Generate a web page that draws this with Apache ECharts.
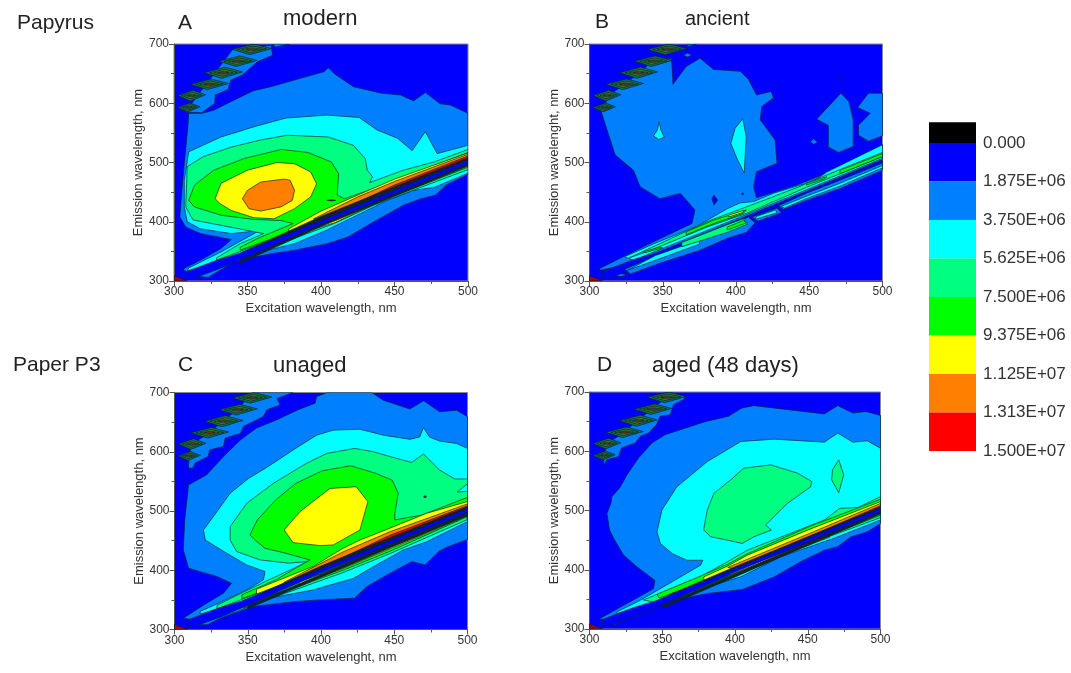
<!DOCTYPE html>
<html><head><meta charset="utf-8">
<style>html,body{margin:0;padding:0;background:#fff}#c{width:1071px;height:673px;filter:blur(0.45px)}</style>
<script src="https://cdn.jsdelivr.net/npm/echarts@6/dist/echarts.min.js"></script></head>
<body><div id="c"></div>
<script>
// colour levels of the contour scale
const levelColors = {blue:'#0000ff',azure:'#0080ff',cyan:'#00ffff',spring:'#00ff80',green:'#00ff00',yellow:'#ffff00',orange:'#ff8000',red:'#ff0000',dark:'#14222c',dred:'#a00808'};
const scaleLabels = ['0.000','1.875E+06','3.750E+06','5.625E+06','7.500E+06','9.375E+06','1.125E+07','1.313E+07','1.500E+07'];
const scaleColors = ['#000000','#0000ff','#0080ff','#00ffff','#00ff80','#00ff00','#ffff00','#ff8000','#ff0000'];
const scaleFrom = [-0.54,0,1,2,3,4,5,6,7];
const scaleTo = [0,1,2,3,4,5,6,7,8];

// second-order scatter spots: excitation, emission, half-width, half-height (nm)
const spotCentres = [[310,593,7.7,7.6],[312,613,9.5,9],[324,632,13,9],[333.6,651.5,13,9.5],[343.5,671,13,9],[353,691,13.5,9]];
const cornerSpot = [[300,300],[309,300],[300,309]];
// deep blue channel along the Rayleigh line
const ridgeGap = [[309,316],[330,336],[345,347],[400,402],[450,453],[500,504],[500,498],[450,447],[400,396],[345,335],[330,320],[316,307],[309,305]];

// ---- Panel A: papyrus, modern
const A_azure = [[310,583],[309.5,563],[307,498],[305,442],[304,408],[308,391],[318,380],[331,374],[339,370],[332,355],[318,335],[306,320],[309,315],[316,308],[323,306],[343,335],[366,346],[382,352],[404,363],[418,374],[436,400],[456,428],[468,439],[478,445],[485,462],[500,480],[500,583],[488,597],[481,599],[471,618],[463,604],[454,614],[441,617],[422,628],[409,650],[405,660],[402,653],[386,642],[366,628],[354,621],[339,603],[327,588],[319,583]];
const A_stairs = [[308,585],[319,584],[327.7,600],[328,614],[336.7,623],[338.6,639],[346.5,647.6],[356.7,670],[367,681],[366,698],[340,691],[310,593]];
const A_azureTop = [[367,700],[379,700],[369,695]];
const A_cyanUp = [[310,518],[332,543],[354,560],[376,575],[404,580],[426,576],[438,555],[452,541],[462,520],[471,552],[479,515],[500,529],[500,505],[400,401],[340,340],[309,317],[310,322],[332,349],[358,385],[339,380],[318,388],[309,400],[307,425],[307,470]];
const A_cyanLow = [[329,321],[359,349],[382,363],[404,386],[427,414],[445,436],[463,453],[477,458],[500,482],[500,500],[400,398],[330,326]];
const A_springUp = [[309,493],[320,510],[339,526],[359,538],[377,546],[405,543],[422,529],[430,507],[431.5,487],[435,476],[433,466],[456,487],[477,501],[500,522],[500,505],[400,401],[329,335],[329,339],[345,363],[361,380],[332,394],[313,403],[308,425]];
const A_springLow = [[348,341],[382,372],[409,397],[436,428],[472,462],[500,488],[500,500],[400,398],[350,346]];
const A_greenUp = [[310,436],[314,462],[327,487],[348,507],[373,522],[391,517],[407,501],[412,481],[411,445],[416,439],[445,464],[500,517],[500,505],[400,401],[345,352],[345,357],[357,372],[381,397],[373,402],[354,404],[332,411],[314,425]];
const A_greenLow = [[366,357],[386,379],[422,417],[472,465],[500,492],[500,500],[400,398],[368,363]];
const A_yellowCore = [[328,439],[332,465],[350,487],[370,500],[382,498],[393,484],[397,464],[393,442],[382,422],[368,405],[354,407],[339,419],[331,431]];
const A_orangeCore = [[346.5,439],[350,453],[359,467],[375,472],[379,470],[382,453],[380.5,436],[372.6,425],[359,418],[351,422]];
const A_yellowUp = [[378,388],[400,418],[450,472],[500,516],[500,505],[450,455],[400,403],[378,380]];
const A_orangeUp = [[395,405],[425,442],[450,468],[500,514],[500,505],[450,455],[400,403]];
const A_redUp = [[410,415],[450,462],[500,511],[500,505],[450,455]];
const A_darkUp = [[345,347],[400,409],[450,459],[500,508],[500,504],[450,453],[400,401],[345,345]];
const A_yellowLow = [[386,381],[409,398],[445,440],[472,466],[472,468],[445,444],[409,403],[386,385]];
const A_orangeLow = [[440,437],[472,466],[472,468],[440,441]];
const A_darkLow = [[345,330],[400,392],[450,443],[500,494],[500,499],[450,448],[400,397],[345,335]];
const A_spot = [[404,436],[407,437],[410,436],[407,435]];

// ---- Panel B: papyrus, ancient
const B_azure = [[308,586],[310,593],[313,613],[324,632],[334,651],[343,671],[356,676],[357,632],[366,662],[375.5,676],[384.6,657],[403,654],[408.5,640],[414,614],[424,620],[425.6,609],[417.6,594.5],[416.5,572],[426.7,538],[428,498.6],[414,484.5],[412,459],[414,440.5],[441.5,462],[462,482],[500,530],[500,505],[400,401],[330,330],[307,318],[307,321],[323,341],[341,363],[370,397],[372,420],[362,448],[348,439],[334.6,459],[330,487],[317.5,513],[312,555]];
const B_cyanDrop = [[347.5,569],[348.7,555],[351,542.6],[347,539],[343.7,545],[346.4,555]];
const B_cyanBlade = [[404.6,573.6],[407,544],[405.6,482],[400.6,507],[396.5,532],[399.4,558]];
const B_hole = [[383.5,439],[385,445],[387.4,436.5],[385,428]];
const B_hole2 = [[403.8,447],[404.6,449],[405.4,447],[404.6,445]];
const B_isle1 = [[471.6,617],[477,603],[480,572],[480,527],[470,517],[463,526],[463,563],[455,573]];
const B_isle2 = [[490.4,617],[500,617],[500,545],[490.4,536],[483.6,546],[483.6,563],[491.6,583],[483,593]];
const B_isle3 = [[450.6,535],[453,540],[455.6,533.6],[453,530.7]];
const B_isle4 = [[364,681],[367,685],[370,681],[367,678]];
const B_isle5 = [[366,695],[367.6,700],[373,700]];
const B_isle6 = [[316,310],[321,313],[326,310],[321,307.5]];
const B_dot1 = [[423,466],[424,468],[425,466],[424,464]];
const B_dot2 = [[470.6,641],[471.6,643],[472.6,641],[471.6,639]];
const B_cyanUp = [[324,341],[344,363],[373,392],[394,422],[403,432],[412,434],[425.6,448],[444,462],[450,463],[462,484],[500,530],[500,507],[450,456],[400,405],[330,335]];
const B_springUp = [[327,339],[348,363],[382,402],[407,425],[443,459],[448,465],[500,517],[500,510],[448,458],[407,414],[380,391],[342,352]];
const B_greenUp1 = [[336,349],[348,357],[350,356],[338,348]];
const B_greenUp2 = [[366,383],[385,403],[407,420],[405,414],[385,397],[366,378]];
const B_greenUp3 = [[448,465],[462,476],[460,472],[448,462]];
const B_greenUp4 = [[471,487],[500,515],[500,510],[471,481]];
const B_yellowUp = [[395,411],[405,419],[405,416],[395,408]];
const B_lowA1 = [[324,320],[328,312],[348,330],[375.5,352],[394,372],[407,382],[413,398],[408.5,408],[369,366],[344,341]];
const B_lowC1 = [[326,318],[345,335],[375,362],[375,369],[345,343]];
const B_lowS1 = [[363,358],[394,382],[408,396],[405,405],[394,395],[363,365]];
const B_lowG1 = [[394,386],[407,398],[405,402],[394,391]];
const B_lowA2 = [[411,408],[415,401],[431,415],[428,423]];
const B_lowC2 = [[413,404],[428,415],[427,420],[414,409]];
const B_lowA3 = [[429,427],[448,448],[471,470],[500,499],[500,487],[471,456],[448,436],[432.4,421]];
const B_lowC3 = [[431,426],[448,443],[471,465],[500,495],[500,491],[471,460],[448,439],[433,423]];

// ---- Panel C: paper P3, unaged
const C_azure = [[309.6,544],[322,561],[334.6,595],[345,620],[356,640],[370,654],[384.5,671],[396,682],[397,693],[404,700],[434.6,700],[442.5,687],[460.7,672],[470,686],[481,667.4],[492.5,670],[500,659],[500,452],[487,440],[481,433],[471,409],[462,414.6],[445,392],[431,372],[423,353],[399,350],[381,347],[354,339],[331,319],[322.5,308],[317,308],[311.4,317],[306,319],[322,344.5],[333.4,361],[339,378],[329,389.4],[309.6,403.5],[306,434.4],[307,485]];
const C_stairs = [[310,593],[309.6,572.4],[312.5,572.4],[314,581],[323,592],[324,603],[333.4,609],[334.6,623],[345,631],[347,642.6],[360.7,659.5],[363,670.7],[372,679],[370,690],[381,700],[353,700],[343,671],[333,652],[324,632],[312,613]];
const C_cyanUp = [[319.8,468],[329,499],[338,530],[350.5,555],[363,573.6],[381,603],[397,628],[408.4,636.5],[426.6,638],[442.5,628],[460.7,621],[467.4,625],[470,641],[474,625],[481,618],[492.5,614],[500,605.6],[500,507],[400,401],[345,347],[317.5,326],[317.5,330.5],[327.7,341.7],[351.6,369.8],[360.7,383.8],[361.8,397.8],[349.3,409],[335.7,428.7],[321,451]];
const C_cyanLow = [[327.7,319],[342,330],[365,353],[395,367],[406,375],[422,386],[435.7,406],[456,434],[472,448],[500,482],[500,500],[400,392],[330,323]];
const C_springUp = [[338,473.6],[349.3,513],[367.5,546.7],[390,580.4],[404,597.3],[423,605.6],[435.7,600],[451.6,588.8],[461.8,582],[470,596],[481,569],[491.4,554],[500,554],[500,507],[400,401],[329,335],[329,341],[362,381],[391.4,414.7],[377.7,412],[358.4,417.5],[342.5,431.5],[338,451]];
const C_cyanIsle = [[493,532],[500,546],[500,533]];
const C_springLow = [[347,336],[380,365],[415,396],[447,428],[499.5,485],[500,500],[400,394],[349,340]];
const C_greenUp = [[351.5,459.6],[356.6,485],[369,518.5],[382.7,546.6],[401,568],[420.3,576.4],[437.5,563.5],[448.6,552],[452.7,530],[450.4,496],[450.4,485],[468.6,493],[500,523],[500,507],[400,401],[346,352],[346,358.5],[370,385],[392.5,417.5],[374,430],[361.8,437],[355,451]];
const C_greenLow = [[356,351],[384.5,372.6],[415,400],[447,432],[499.5,490],[500,500],[400,394],[358,354]];
const C_yellowCore = [[374.8,468],[385.7,499],[406,538],[424,541],[432,516],[426.6,468],[408.4,442.7],[399.3,441.6],[381,446.6]];
const C_yellowUp = [[356,368],[395,407],[415,437],[426.6,451],[447,471],[472,496],[500,516],[500,505],[450,453],[400,401],[356,360]];
const C_orangeUp = [[375,380],[415,431],[447,465],[500,512],[500,505],[450,453],[400,401],[375,375]];
const C_redUp = [[395,398],[447,459],[500,509],[500,505],[450,453],[400,401]];
const C_darkUp = [[360,362],[400,407],[447,455],[500,507],[500,504],[450,453],[400,402],[360,360]];
const C_yellowLow = [[385,376],[415,403],[447,436],[472,462],[499,491],[499,495],[472,466],[447,440],[415,407],[385,380]];
const C_orangeLow = [[400,390],[447,439],[470,462],[470,465],[447,442],[400,394]];
const C_darkLow = [[350,335],[400,388],[450,441],[500,492],[500,498],[450,447],[400,393],[350,340]];
const C_spot = [[470,524],[471,526],[472,524],[471,522]];

// ---- Panel D: paper P3, aged 48 days
const D_azure = [[312,495],[314.7,512],[315.4,523],[321,539],[325.7,560],[333.7,588.5],[342.9,613.8],[352,628],[365.8,639],[379.5,650],[395.6,659],[404.8,673],[413,677],[461.4,663],[470.6,677],[481,664.5],[490,667],[500,660.5],[500,478],[491,464],[479.8,455.7],[470.6,439],[461.4,433],[445,413.4],[427,388],[415.4,376.7],[405,366.6],[381,360],[358,348.5],[335,329],[317.7,307.3],[310,316],[307,317.5],[344,368],[345,382],[332.6,405],[323.4,424.7],[316.6,453],[313.8,467]];
const D_stairs = [[310,593],[309.6,576],[312,585.7],[320,591],[322,605.4],[331.4,613.8],[334.8,625],[340.6,630.7],[346,644.8],[348.6,659],[355.5,661.7],[357.8,678.6],[364.6,687],[366,692],[353,691],[343,671],[333,652],[324,632],[312,613]];
const D_cyanUp = [[346.4,464],[349.8,501],[360,540],[381,582.6],[404,616.5],[427,620.4],[461.4,615.4],[470.6,630.6],[481,615.4],[491,617.6],[500,605],[500,505],[400,401],[345,345],[319,326],[319,329],[335,348.5],[376.3,407.7],[378,416],[367,416],[356.8,427.5],[348.7,444.4]];
const D_cyanLow = [[336.8,328.8],[358,355],[376,368],[404,388],[431.5,422],[468,453],[500,484],[500,500],[400,394],[338,331]];
const D_springCore = [[378.6,470],[381,501],[385.5,529],[397,551.6],[406,571.4],[424.6,577],[443,563],[452.7,549],[452,540],[436,512],[421,475.5],[425,467],[413,455.7],[405,444.4],[394.7,450],[383.2,455.7],[378.6,467]];
const D_springIsle = [[471.3,585.5],[474.7,560],[471.3,530],[466.4,551.6],[467,568.5]];
const D_springUp = [[337,349],[376,388],[394.7,413.4],[408.5,433],[440.7,464],[461.4,484],[472,503.6],[484.4,505],[500,523.4],[500,505],[400,401],[345,345]];
const D_springLow = [[356,348.5],[376,366],[394.7,388],[431.5,428],[468,459],[500,488],[500,500],[400,394],[358,351]];
const D_greenUp = [[346.4,358.6],[374,387],[394.7,409],[408.5,427],[450,472],[500,519],[500,505],[400,401],[348,352]];
const D_greenLow = [[370,360],[400,388],[431.5,423],[468,461],[500,492],[500,500],[400,394],[372,364]];
const D_yellowUp = [[378.6,388],[394.7,406],[408.5,424.6],[450,467],[500,515],[500,505],[450,453],[400,401],[378.6,381]];
const D_orangeUp = [[395,404],[450,460],[500,512],[500,505],[450,453],[400,401]];
const D_redUp = [[410,412],[450,455],[500,508],[500,505],[450,453]];
const D_darkUp = [[355,358],[400,405],[450,455.5],[500,506],[500,504],[450,453],[400,402],[355,354]];
const D_yellowLow = [[395,390],[431.5,425],[473,466],[473,469],[431.5,428],[395,393]];
const D_orangeLow = [[410,400],[445,436],[465,455],[465,457],[445,439],[410,403]];
const D_darkLow = [[350,335],[400,388],[450,441],[500,494],[500,499],[450,447],[400,393],[350,340]];

// painter's order for each panel: [level, polygon]
const panelALayers = [['azure',A_azure],['azure',A_stairs],['azure',A_azureTop],['cyan',A_cyanUp],['cyan',A_cyanLow],['spring',A_springUp],['spring',A_springLow],['green',A_greenUp],['green',A_greenLow],['yellow',A_yellowCore],['orange',A_orangeCore],['dark',A_spot],['yellow',A_yellowUp],['orange',A_orangeUp],['red',A_redUp],['yellow',A_yellowLow],['orange',A_orangeLow],['dark',A_darkUp],['dark',A_darkLow],['blue',ridgeGap]];
const panelBLayers = [['azure',B_azure],['azure',B_isle1],['azure',B_isle2],['azure',B_isle3],['azure',B_isle4],['azure',B_isle5],['azure',B_isle6],['cyan',B_cyanDrop],['cyan',B_cyanBlade],['blue',B_hole],['blue',B_hole2],['blue',B_dot1],['blue',B_dot2],['cyan',B_cyanUp],['spring',B_springUp],['green',B_greenUp1],['green',B_greenUp2],['green',B_greenUp3],['green',B_greenUp4],['yellow',B_yellowUp],['blue',ridgeGap],['azure',B_lowA1],['cyan',B_lowC1],['spring',B_lowS1],['green',B_lowG1],['azure',B_lowA2],['cyan',B_lowC2],['azure',B_lowA3],['cyan',B_lowC3]];
const panelCLayers = [['azure',C_azure],['azure',C_stairs],['cyan',C_cyanUp],['cyan',C_cyanLow],['spring',C_springUp],['cyan',C_cyanIsle],['spring',C_springLow],['green',C_greenUp],['green',C_greenLow],['yellow',C_yellowCore],['dark',C_spot],['yellow',C_yellowUp],['orange',C_orangeUp],['red',C_redUp],['yellow',C_yellowLow],['orange',C_orangeLow],['dark',C_darkUp],['dark',C_darkLow],['blue',ridgeGap]];
const panelDLayers = [['azure',D_azure],['azure',D_stairs],['cyan',D_cyanUp],['cyan',D_cyanLow],['spring',D_springCore],['spring',D_springIsle],['spring',D_springUp],['spring',D_springLow],['green',D_greenUp],['green',D_greenLow],['yellow',D_yellowUp],['orange',D_orangeUp],['red',D_redUp],['yellow',D_yellowLow],['orange',D_orangeLow],['dark',D_darkUp],['dark',D_darkLow],['blue',ridgeGap]];

const xNames = ['Excitation wavelength, nm','Excitation wavelength, nm','Excitation wavelenght, nm','Excitation wavelength, nm'];
const yNames = ['Emission wavelength, nm','Emission wavelenght, nm','Emission wavelength, nm','Emission wavelength, nm'];
const exTicks = {min:300,max:500,interval:50};
const emTicks = {min:300,max:700,interval:100};
const gridBoxes = [{left:174,top:44,width:294,height:237},{left:589.5,top:44,width:293,height:237},{left:174.5,top:392.5,width:293,height:237},{left:589.5,top:392,width:291,height:237}];
const panelText = [['Papyrus',17,25,21],['A',178,25,21],['modern',283,21,22],['B',595,24,21],['ancient',685,21,20],['Paper P3',13,367,21],['C',178,367,21],['unaged',273,368,22],['D',597,367,21],['aged (48 days)',652,368,22]];

const FONT = '"Liberation Sans",Arial,sans-serif';
const STROKE = 'rgba(0,35,50,0.85)';
function spotLayers(){
  const out = [];
  const tiers = [['#1c6e3e',1,1],['#2f9a28',0.72,0.6],['#a8901a',0.5,0.3],['#b02a10',0.3,0.16]];
  spotCentres.forEach(s=>{
    tiers.forEach(t=>{
      const w=s[2]*t[1], h=s[3]*t[2];
      out.push([t[0],[[s[0]-w,s[1]],[s[0]+w*0.1,s[1]+h],[s[0]+w,s[1]+h*0.15],[s[0]-w*0.1,s[1]-h]]]);
    });
  });
  return out;
}
function contourSeries(layers,i){
  const all = layers.concat(spotLayers()).concat([['dred',cornerSpot]]);
  return {type:'custom',xAxisIndex:i,yAxisIndex:i,silent:true,clip:true,animation:false,
    data:all.map(l=>l[1][0]),
    renderItem:function(params,api){
      const l = all[params.dataIndex];
      return {type:'polygon',shape:{points:l[1].map(p=>api.coord(p))},
        style:{fill:levelColors[l[0]]||l[0],stroke:STROKE,lineWidth:0.8}};
    }};
}
const axisCommon = {type:'value',axisLine:{show:true,onZero:false,lineStyle:{color:'#555',width:1}},
  axisTick:{show:true,length:5,lineStyle:{color:'#555'}},minorTick:{show:true,splitNumber:2,length:3,lineStyle:{color:'#555'}},
  splitLine:{show:false},minorSplitLine:{show:false},
  axisLabel:{color:'#333',fontSize:12,fontFamily:FONT,margin:5,showMinLabel:true,showMaxLabel:true},
  nameLocation:'middle',nameTextStyle:{color:'#333',fontSize:13,fontFamily:FONT}};

const option = {backgroundColor:'#fff',animation:false,
  grid:gridBoxes.map(b=>Object.assign({show:true,backgroundColor:'#0000ff',borderColor:'#888',borderWidth:1},b)).concat([{left:929,top:104.5,width:47,height:346.5}]),
  xAxis:gridBoxes.map((b,i)=>Object.assign({},axisCommon,exTicks,{gridIndex:i,name:xNames[i],nameGap:21})).concat([{type:'value',gridIndex:4,min:0,max:1,show:false}]),
  yAxis:gridBoxes.map((b,i)=>Object.assign({},axisCommon,emTicks,{gridIndex:i,name:yNames[i],nameGap:28})).concat([{type:'value',gridIndex:4,min:-1,max:8,interval:1,inverse:true,position:'right',
    axisLine:{show:false},axisTick:{show:false},splitLine:{show:false},
    axisLabel:{show:true,margin:7,color:'#333',fontSize:17,fontFamily:FONT,showMinLabel:true,showMaxLabel:true,formatter:v=>v<0?'':scaleLabels[v]}}]),
  series:[contourSeries(panelALayers,0),contourSeries(panelBLayers,1),contourSeries(panelCLayers,2),contourSeries(panelDLayers,3),
    {type:'custom',xAxisIndex:4,yAxisIndex:4,silent:true,animation:false,clip:false,
     data:scaleColors.map((c,i)=>[0,scaleFrom[i],1,scaleTo[i]]),
     renderItem:function(params,api){
       const a=api.coord([api.value(0),api.value(1)]),b=api.coord([api.value(2),api.value(3)]);
       return {type:'rect',shape:{x:a[0],y:a[1],width:b[0]-a[0],height:b[1]-a[1]},style:{fill:scaleColors[params.dataIndex]}};
     }}],
  graphic:panelText.map(t=>({type:'text',left:t[1],top:t[2]-t[3]*0.6,silent:true,style:{text:t[0],fill:'#222',font:t[3]+'px '+FONT}}))
};
echarts.init(document.getElementById('c')).setOption(option);
</script></body></html>
